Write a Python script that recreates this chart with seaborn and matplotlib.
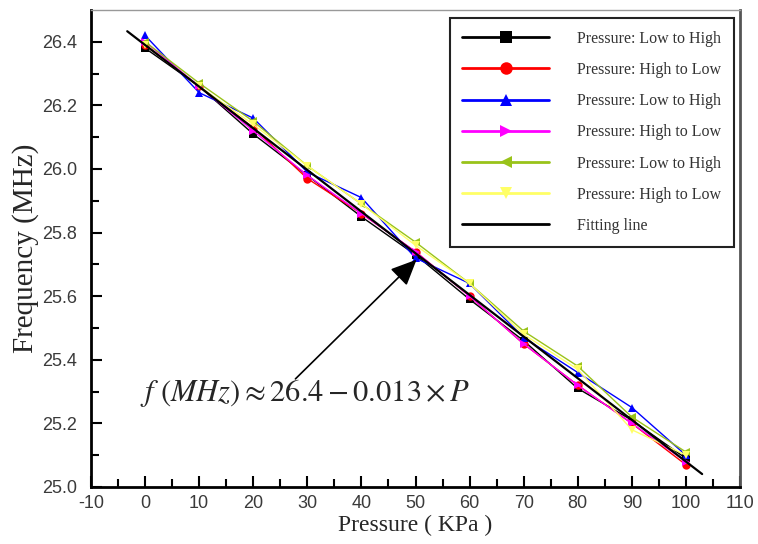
import numpy as np
import pandas as pd
import matplotlib
matplotlib.use("Agg")
import matplotlib.pyplot as plt
import seaborn as sns

sns.set_theme(style="white")
plt.rcParams["font.family"] = ["Liberation Serif", "DejaVu Serif"]
plt.rcParams["mathtext.fontset"] = "stix"

# ---- data ----
pressure = [0, 10, 20, 30, 40, 50, 60, 70, 80, 90, 100]
black_lth = [26.38, 26.26, 26.11, 25.98, 25.85, 25.73, 25.59, 25.46, 25.31, 25.21, 25.09]
red_htl = [26.39, 26.26, 26.13, 25.97, 25.86, 25.74, 25.60, 25.45, 25.32, 25.20, 25.07]
blue_lth = [26.42, 26.24, 26.16, 25.99, 25.91, 25.72, 25.64, 25.47, 25.36, 25.25, 25.10]
magenta_htl = [26.40, 26.26, 26.12, 25.98, 25.86, 25.74, 25.60, 25.45, 25.32, 25.20, 25.08]
olive_lth = [26.40, 26.27, 26.15, 26.01, 25.89, 25.77, 25.64, 25.49, 25.38, 25.22, 25.11]
yellow_htl = [26.39, 26.26, 26.14, 26.01, 25.89, 25.76, 25.64, 25.48, 25.37, 25.18, 25.10]
series_labels = ["Pressure: Low to High", "Pressure: High to Low",
                 "Pressure: Low to High", "Pressure: High to Low",
                 "Pressure: Low to High", "Pressure: High to Low"]
fit_range = [-3.3, 103.0]
fit_intercept = 26.39
fit_slope = -0.0131
x_ticks = [-10, 0, 10, 20, 30, 40, 50, 60, 70, 80, 90, 100, 110]
y_ticks = [25.0, 25.2, 25.4, 25.6, 25.8, 26.0, 26.2, 26.4]

series = [black_lth, red_htl, blue_lth, magenta_htl, olive_lth, yellow_htl]
colors = ["#000000", "#ff0000", "#0000ff", "#ff00ff", "#99c31a", "#ffff66"]
markers = ["s", "o", "^", ">", "<", "v"]

fig = plt.figure(figsize=(7.58, 5.44), dpi=100)
ax = fig.add_axes([91 / 758, 1 - 487 / 544, (740 - 91) / 758, (487 - 10) / 544])

for vals, c, m, lab in zip(series, colors, markers, series_labels):
    df = pd.DataFrame({"P": pressure, "F": vals})
    sns.lineplot(data=df, x="P", y="F", ax=ax, color=c, marker=m,
                 markersize=6, markeredgewidth=0, linewidth=1.0, label=lab)

fx = np.array(fit_range)
fit_df = pd.DataFrame({"P": fx, "F": fit_intercept + fit_slope * fx})
sns.lineplot(data=fit_df, x="P", y="F", ax=ax, color="black", linewidth=1.6,
             label="Fitting line")

ax.set_xlim(-10, 110)
ax.set_ylim(25.0, 26.5)
ax.set_xticks(x_ticks)
ax.set_xticklabels([str(t) for t in x_ticks])
ax.set_yticks(y_ticks)
ax.set_yticklabels([f"{t:.1f}" for t in y_ticks])
ax.set_xticks(np.arange(-5, 110, 10), minor=True)
ax.set_yticks(np.arange(25.1, 26.5, 0.2), minor=True)
ax.tick_params(axis="both", which="both", direction="in", left=True, bottom=True,
               top=False, right=False, width=1.5, color="black")
ax.tick_params(axis="both", which="major", length=8)
ax.tick_params(axis="both", which="minor", length=6)
ax.tick_params(axis="y", which="major", pad=10)
ax.tick_params(axis="x", which="major", pad=6)
for lbl in ax.get_xticklabels() + ax.get_yticklabels():
    lbl.set_family(["Liberation Sans", "DejaVu Sans"])
    lbl.set_fontsize(13)
    lbl.set_color("#3a3a3a")

for side in ["left", "bottom", "right"]:
    ax.spines[side].set_color("black")
    ax.spines[side].set_linewidth(2.0)
ax.spines["right"].set_color("#555555")
ax.spines["top"].set_color("#999999")
ax.spines["top"].set_linewidth(1.0)

ax.set_xlabel("Pressure ( KPa )", fontsize=17, labelpad=2)
ax.set_ylabel("Frequency (MHz)", fontsize=21, labelpad=2)

ax.text(-1.0, 25.295, r"$f\ (MHz)\approx 26.4-0.013\times P$", fontsize=22,
        ha="left", va="center")
ax.annotate("", xy=(50.2, 25.715), xytext=(27.8, 25.34),
            arrowprops=dict(arrowstyle="-|>,head_length=1.0,head_width=0.45",
                            mutation_scale=16, color="black", lw=1.2,
                            shrinkA=0, shrinkB=0))

leg = ax.legend(loc="upper right", bbox_to_anchor=(0.991, 0.983),
                borderaxespad=0, fontsize=11.5, handlelength=5.4,
                handletextpad=1.8, labelspacing=0.95, borderpad=0.8,
                fancybox=False, framealpha=1, edgecolor="#222222")
leg.get_frame().set_linewidth(1.5)
for h in leg.legend_handles:
    h.set_linewidth(2.0)
    h.set_markersize(9)
for t in leg.get_texts():
    t.set_color("#333333")

fig.savefig("out.png", dpi=100)
